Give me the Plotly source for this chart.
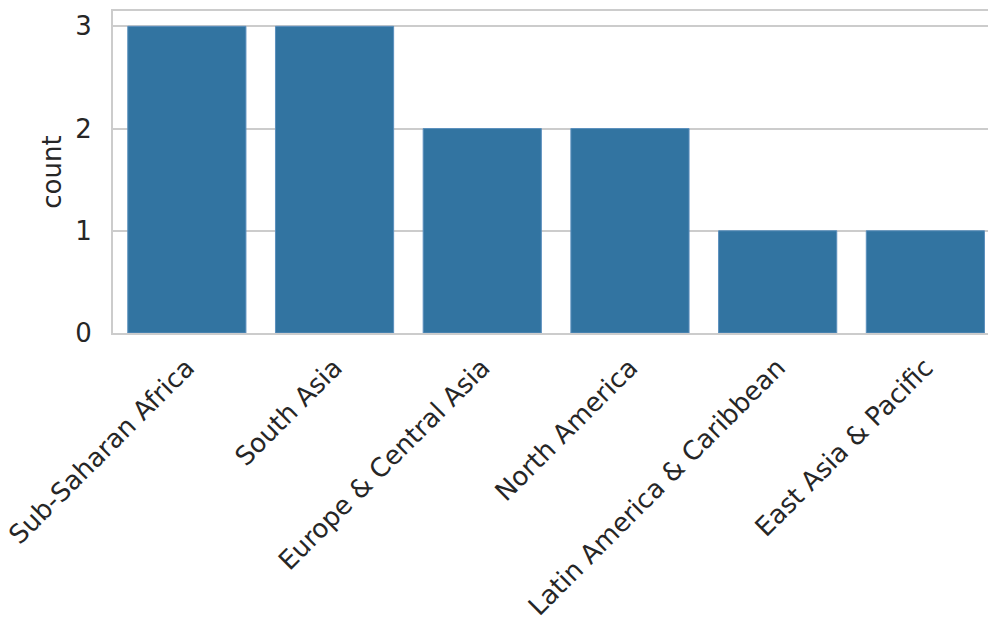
import plotly.graph_objects as go

categories = ["Sub-Saharan Africa", "South Asia", "Europe & Central Asia",
              "North America", "Latin America & Caribbean", "East Asia & Pacific"]
counts = [3, 3, 2, 2, 1, 1]
y_ticks = [0, 1, 2, 3]

fig = go.Figure(go.Bar(
    x=list(range(len(categories))), y=counts, width=0.8,
    marker=dict(color="#3274a1", line=dict(color="#5b8fbd", width=1)),
))

font = dict(family="DejaVu Sans", size=26, color="#262626")
fig.update_layout(
    width=988, height=618,
    margin=dict(l=113, r=0, t=11, b=285),
    paper_bgcolor="white", plot_bgcolor="white",
    font=font, showlegend=False,
    xaxis=dict(
        range=[-0.5, 5.424], tickmode="array",
        tickvals=list(range(len(categories))), ticktext=categories,
        tickangle=-45, showgrid=False, zeroline=False, automargin=False,
        showline=True, linecolor="#cccccc", linewidth=2, mirror=True,
        ticks="outside", ticklen=7, tickcolor="white",
        tickfont=font,
    ),
    yaxis=dict(
        range=[0, 3.15], tickmode="array", tickvals=y_ticks, automargin=False,
        showgrid=True, gridcolor="#cccccc", gridwidth=2, zeroline=False,
        showline=True, linecolor="#cccccc", linewidth=2, mirror=True,
        ticks="outside", ticklen=14, tickcolor="white",
        tickfont=font,
        title=dict(text="count", font=font, standoff=6),
    ),
)
fig.write_html("out.html", config={"displayModeBar": False},
               post_script="document.body.style.margin='0';document.body.style.overflow='hidden';")
